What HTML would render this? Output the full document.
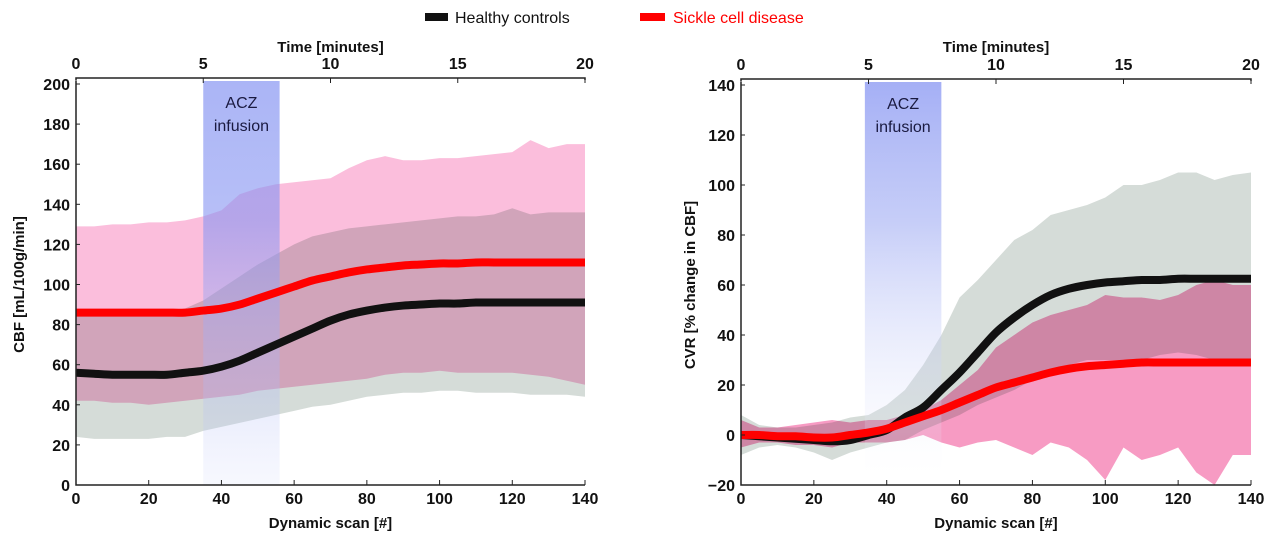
<!DOCTYPE html>
<html><head><meta charset="utf-8"><style>
body{margin:0;background:#fff;width:1280px;height:544px;overflow:hidden;font-family:"Liberation Sans",sans-serif}
svg text{font-family:"Liberation Sans",sans-serif}
.tk{font-weight:bold;font-size:16px;fill:#111}
.ax{font-weight:bold;font-size:15px;fill:#111}
</style></head><body>
<svg id="s" width="1280" height="544">
<defs>
<linearGradient id="gl" x1="0" y1="0" x2="0" y2="1"><stop offset="0" stop-color="#8795f2" stop-opacity="0.7"/><stop offset="0.35" stop-color="#8795f2" stop-opacity="0.6"/><stop offset="1" stop-color="#c8d0f8" stop-opacity="0.15"/></linearGradient>
<linearGradient id="gr" x1="0" y1="0" x2="0" y2="1"><stop offset="0" stop-color="#8795f2" stop-opacity="0.75"/><stop offset="0.35" stop-color="#98a5f2" stop-opacity="0.55"/><stop offset="0.85" stop-color="#e4e8fb" stop-opacity="0.2"/><stop offset="1" stop-color="#fff" stop-opacity="0"/></linearGradient>
</defs>
<g>
<rect x="425" y="13" width="23" height="8" fill="#111"/>
<text x="455" y="23" font-size="16" fill="#111">Healthy controls</text>
<rect x="640" y="13" width="25" height="8" fill="#f00"/>
<text x="673" y="23" font-size="16" fill="#f00">Sickle cell disease</text>
</g>
</svg>
<script>
const scans=[0,5,10,15,20,25,30,35,40,45,50,55,60,65,70,75,80,85,90,95,100,105,110,115,120,125,130,135,140];
const cbfHealthyMean=[56,55.5,55,55,55,55,56,57,59,62,66,70,74,78,82,85,87,88.5,89.5,90,90.5,90.5,91,91,91,91,91,91,91];
const cbfScdMean=[86,86,86,86,86,86,86,87,88,90,93,96,99,102,104,106,107.5,108.5,109.5,110,110.5,110.5,111,111,111,111,111,111,111];
const cbfHealthyLow=[24,23,23,23,23,24,24,27,29,31,33,35,37,39,40,42,44,45,46,46,47,47,46,46,46,45,45,45,44];
const cbfHealthyHigh=[85,85,86,86,86,87,88,92,98,104,110,115,120,124,126,128,129,130,131,132,133,134,134,135,138,135,136,136,136];
const cbfScdLow=[42,42,41,41,40,41,42,43,44,45,47,48,49,50,51,52,53,55,56,56,57,56,56,56,56,55,54,52,50];
const cbfScdHigh=[129,129,130,130,131,131,132,134,137,145,148,150,151,152,153,158,162,164,162,162,163,163,164,165,166,172,168,170,170];
const cvrHealthyMean=[0,-0.5,-1,-1.5,-2,-2.5,-2,0,2,7,11,18,25,33,41,47,52,56,58.5,60,61,61.5,62,62,62.5,62.5,62.5,62.5,62.5];
const cvrScdMean=[0,0,-0.5,-0.5,-1,-1,0,1,2.5,5,7.5,10,13,16,19,21,23,25,26.5,27.5,28,28.5,29,29,29,29,29,29,29];
const cvrHealthyLow=[-8,-5,-4,-5,-7,-10,-7,-5,-3,-2,2,5,8,12,15,18,22,25,28,30,30,30,30,32,33,32,30,30,28];
const cvrHealthyHigh=[8,4,3,3,4,5,7,8,12,18,28,40,55,62,70,78,82,88,90,92,95,100,100,102,105,105,102,104,105];
const cvrScdLow=[-5,-3,-3,-4,-4,-5,-3,-3,-3,-2,0,-3,-5,-3,-2,-5,-8,-3,-5,-10,-18,-5,-10,-8,-5,-15,-20,-8,-8];
const cvrScdHigh=[6,3,3,4,5,6,5,6,6,8,10,14,20,26,35,40,45,48,50,52,56,55,55,54,56,60,62,60,60];
const cbfTicks=[0,20,40,60,80,100,120,140,160,180,200];
const cvrTicks=[-20,0,20,40,60,80,100,120,140];
const scanTicks=[0,20,40,60,80,100,120,140];
const timeTicks=[0,5,10,15,20];
const acz=[[35,56],[34,55]];

const NS='http://www.w3.org/2000/svg';const svg=document.getElementById('s');
function mk(t,a,p){const e=document.createElementNS(NS,t);for(const k in a)e.setAttribute(k,a[k]);(p||svg).appendChild(e);return e;}
function smooth(pts){
 let d='M'+pts[0][0]+','+pts[0][1];
 for(let i=0;i<pts.length-1;i++){
  const p0=pts[Math.max(0,i-1)],p1=pts[i],p2=pts[i+1],p3=pts[Math.min(pts.length-1,i+2)];
  const c1=[p1[0]+(p2[0]-p0[0])/6,p1[1]+(p2[1]-p0[1])/6],c2=[p2[0]-(p3[0]-p1[0])/6,p2[1]-(p3[1]-p1[1])/6];
  d+=`C${c1[0]},${c1[1]} ${c2[0]},${c2[1]} ${p2[0]},${p2[1]}`;
 }
 return d;
}
function panel(o){
 const g=mk('g',{});
 
 
 const X=v=>o.x0+(v-0)/140*(o.x1-o.x0);
 const Y=v=>o.yb+(v-o.ymin)/(o.ymax-o.ymin)*(o.yt-o.yb);
 function band(lo,hi,fill,nm,blend){
  let d='M'+scans.map((s,i)=>X(s)+','+Y(hi[i])).join('L');
  for(let i=scans.length-1;i>=0;i--)d+='L'+X(scans[i])+','+Y(lo[i]);
  const p=mk('path',{d:d+'Z',fill:fill},g);
  if(blend)p.style.mixBlendMode='multiply';
  
  
 }
 function line(v,c,nm){
  const p=mk('path',{d:smooth(scans.map((s,i)=>[X(s),Y(v[i])])),fill:'none',stroke:c,'stroke-width':8,'stroke-linejoin':'round'},g);
  
  
 }
 band(o.hl,o.hh,'#d5dcd8','healthy-band');
 band(o.sl,o.sh,o.pink,'scd-band',true);
 const r=mk('rect',{x:X(o.acz[0]),y:o.yt-3,width:X(o.acz[1])-X(o.acz[0]),height:o.yb-o.yt+3,fill:o.grad},g);
 
 
 const cx=(X(o.acz[0])+X(o.acz[1]))/2;
 const t1=mk('text',{x:cx,y:o.yt+24,'text-anchor':'middle','font-size':16,fill:'#1a1a40'},g);t1.textContent='ACZ';
 
 
 const t2=mk('text',{x:cx,y:o.yt+47,'text-anchor':'middle','font-size':16,fill:'#1a1a40'},g);t2.textContent='infusion';
 
 
 line(o.hm,'#111','healthy-mean-line');
 line(o.sm,'#f00','scd-mean-line');
 mk('path',{d:`M${o.x0},${o.yt-3}V${o.yb}H${o.x1}`,stroke:'#222','stroke-width':1.5,fill:'none'},g);
 mk('path',{d:`M${o.x0},${o.yt-4}V${o.yt-6}H${o.x1}V${o.yt-4}`,stroke:'#222','stroke-width':1.5,fill:'none'},g);
 o.yticks.forEach(v=>{mk('line',{x1:o.x0,x2:o.x0+4,y1:Y(v),y2:Y(v),stroke:'#222'},g);
  const t=mk('text',{x:o.x0-6,y:Y(v)+6,'text-anchor':'end',class:'tk'},g);t.textContent=v<0?'\u2212'+(-v):v;
  
  });
 scanTicks.forEach(v=>{mk('line',{x1:X(v),x2:X(v),y1:o.yb,y2:o.yb-5,stroke:'#222'},g);
  const t=mk('text',{x:X(v),y:o.yb+19,'text-anchor':'middle',class:'tk'},g);t.textContent=v;
  
  });
 timeTicks.forEach(v=>{const xx=X(v*7);mk('line',{x1:xx,x2:xx,y1:o.yt-6,y2:o.yt-1,stroke:'#222'},g);
  const t=mk('text',{x:xx,y:o.yt-15,'text-anchor':'middle',class:'tk'},g);t.textContent=v;
  
  });
 const xt=mk('text',{x:(o.x0+o.x1)/2,y:528,'text-anchor':'middle',class:'ax'},g);xt.textContent='Dynamic scan [#]';
 
 
 const tt=mk('text',{x:(o.x0+o.x1)/2,y:52,'text-anchor':'middle',class:'ax'},g);tt.textContent='Time [minutes]';
 
 
 const yc=(o.yt+o.yb)/2;
 const yt=mk('text',{x:o.ylx,y:yc,'text-anchor':'middle',class:'ax',transform:`rotate(-90 ${o.ylx} ${yc})`},g);yt.textContent=o.ylabel;
 
 
}
panel({name:'cbf-panel',x0:76,x1:585,yt:84,yb:485,ymin:0,ymax:200,hl:cbfHealthyLow,hh:cbfHealthyHigh,sl:cbfScdLow,sh:cbfScdHigh,hm:cbfHealthyMean,sm:cbfScdMean,pink:'#fbbedc',grad:'url(#gl)',acz:acz[0],yticks:cbfTicks,ylabel:'CBF [mL/100g/min]',ylx:24});
panel({name:'cvr-panel',x0:741,x1:1251,yt:85,yb:485,ymin:-20,ymax:140,hl:cvrHealthyLow,hh:cvrHealthyHigh,sl:cvrScdLow,sh:cvrScdHigh,hm:cvrHealthyMean,sm:cvrScdMean,pink:'#f79bc3',grad:'url(#gr)',acz:acz[1],yticks:cvrTicks,ylabel:'CVR [% change in CBF]',ylx:695});
</script>
</body></html>
